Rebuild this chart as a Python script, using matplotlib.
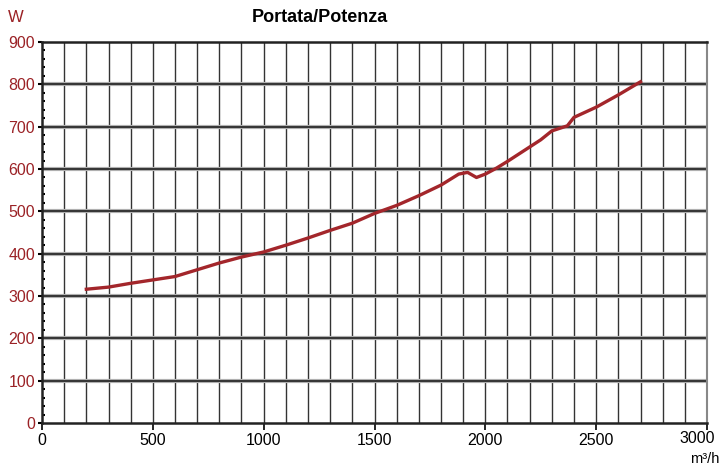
import matplotlib
matplotlib.use("Agg")
import matplotlib.pyplot as plt
from matplotlib.ticker import MultipleLocator, FuncFormatter

plt.rcParams["font.family"] = ["Liberation Sans", "DejaVu Sans"]

# portata (m3/h) vs potenza (W)
portata = [200, 300, 400, 500, 600, 700, 800, 900, 1000, 1100, 1200, 1300,
           1400, 1500, 1600, 1700, 1800, 1880, 1920, 1960, 2000, 2050, 2100,
           2200, 2250, 2300, 2370, 2400, 2500, 2600, 2700]
potenza = [316, 321, 330, 338, 346, 362, 378, 392, 404, 420, 437, 455,
           472, 495, 514, 537, 562, 588, 592, 580, 588, 602, 618,
           652, 669, 690, 702, 722, 746, 775, 806]

X_MAX = 3000
RED = "#9b2226"

fig = plt.figure(figsize=(7.23, 4.68), dpi=100)
ax = fig.add_axes([42 / 723, 45 / 468, 665 / 723, 381 / 468])

ax.set_xlim(0, X_MAX)
ax.set_ylim(0, 900)

# grid: vertical every 100, horizontal every 100 (heavier)
for xv in range(100, X_MAX, 100):
    ax.axvline(xv, color="#333333", lw=1.0, zorder=1)
for yv in range(100, 900, 100):
    ax.axhline(yv, color="#b0b0b0", lw=3.0, zorder=1)
    ax.axhline(yv, color="#2a2a2a", lw=1.3, zorder=1)

ax.plot(portata, potenza, color="#a3262b", lw=2.4, zorder=3)

ax.xaxis.set_major_locator(MultipleLocator(500))
# last label drawn by hand so it stays inside the figure
ax.xaxis.set_major_formatter(FuncFormatter(
    lambda v, p: "" if v >= X_MAX else f"{v:.0f}"))
ax.yaxis.set_major_locator(MultipleLocator(100))
ax.yaxis.set_minor_locator(MultipleLocator(20))
ax.tick_params(axis="x", direction="out", length=5, width=1.2, labelsize=11.5,
               colors="black", pad=2)
ax.tick_params(axis="y", which="major", direction="out", length=3, width=1.5,
               labelsize=11.5, labelcolor=RED, pad=2)
ax.tick_params(axis="y", which="minor", direction="in", length=2, width=1.5)

ax.annotate(f"{X_MAX}", xy=(X_MAX, 0), xycoords="data", xytext=(-7, -5.5),
            textcoords="offset points", ha="center", va="top", fontsize=11.5,
            annotation_clip=False)

for side in ("left", "bottom", "top"):
    ax.spines[side].set_linewidth(1.8)
    ax.spines[side].set_color("#222222")
ax.spines["right"].set_linewidth(1.5)
ax.spines["right"].set_color("#888888")

fig.text(320 / 723, 1 - 18 / 468, "Portata/Potenza", ha="center", va="center",
         fontsize=13, fontweight="bold")
fig.text(8 / 723, 1 - 18 / 468, "W", ha="left", va="center", fontsize=12,
         color=RED)
fig.text(719 / 723, 1 - 459 / 468, "m³/h", ha="right", va="center", fontsize=10.5)

fig.savefig("out.png", dpi=100)
